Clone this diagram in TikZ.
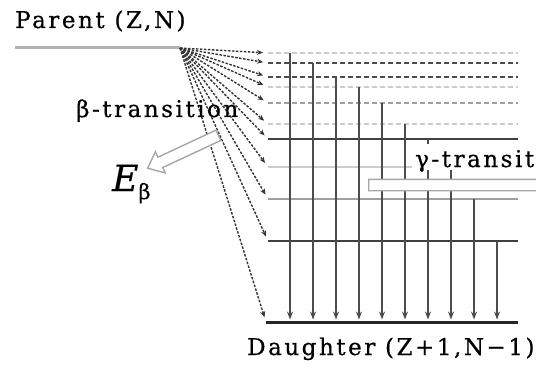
\RequirePackage{fix-cm}
\documentclass[tikz,border=0pt]{standalone}
\usepackage{fontspec}
\usepackage{tikz}
\usetikzlibrary{arrows.meta, shapes.arrows}
\newfontfamily\lblfont{DejaVu Serif}[LetterSpace=11, FakeBold=0.6]
\newfontfamily\enfont{DejaVu Serif}[FakeBold=0.4]

\begin{document}
\begin{tikzpicture}[x=1pt, y=-1pt,
      lbl/.style={font=\lblfont\fontsize{23}{26}\selectfont, inner sep=0pt},
      dlight/.style={gray!40, line width=2pt, dash pattern=on 5pt off 3pt},
      dmid/.style={gray!75, line width=2pt, dash pattern=on 5pt off 3pt},
      ddark/.style={black!70, line width=2pt, dash pattern=on 5pt off 3pt},
      slight/.style={gray!40, line width=2pt},
      smid/.style={gray!75, line width=2pt},
      sdark/.style={black!75, line width=2pt},
      parentlvl/.style={gray!60, line width=3pt},
      daughterlvl/.style={black!85, line width=3pt},
      beta/.style={-{Stealth[length=6pt, width=5pt]}, black!80, line width=1.4pt,
                   dash pattern=on 2.5pt off 1.5pt, shorten >=5pt},
      gam/.style={-{Stealth[length=8pt, width=6pt]}, gray!60!black, line width=1.4pt,
                  shorten >=2.5pt},
      hollow/.style={single arrow, draw=gray!70, fill=white, line width=1.4pt,
                     inner xsep=0pt, inner ysep=5pt, single arrow head extend=6pt,
                     single arrow tip angle=80, anchor=tail}]
    \useasboundingbox (0,0) rectangle (536,369);
    \clip (0,0) rectangle (536,369);
    % parent level
    \coordinate (pw) at (15,48);
    \coordinate (pe) at (180,48);
    \draw[parentlvl] (pw) -- (pe);
    \node[lbl, anchor=base west] (parent) at (15,28) {Parent (Z,N)};
    % excited levels of the daughter
    \foreach \n/\y/\sty in {1/53/dlight, 2/63/ddark, 3/77/ddark, 4/87/dlight, 5/103/dmid,
                            6/124/dlight, 7/139/sdark, 8/167/slight, 9/199/smid, 10/241/sdark}{
      \coordinate (L\n) at (268,\y);
      \coordinate (R\n) at (518,\y);
      \draw[\sty] (L\n) -- (R\n);
    }
    \coordinate (L11) at (266,322);
    \coordinate (R11) at (518,322);
    \draw[daughterlvl] (L11) -- (R11);
    % gamma cascade
    \foreach \n/\x in {1/290, 2/313, 3/336, 4/359, 5/382, 6/405, 7/428, 8/451, 9/474, 10/497}{
      \coordinate (G\n) at (\x,322);
      \draw[gam] (G\n |- L\n) -- (G\n);
    }
    % beta feeding
    \foreach \n in {1,...,11}
      \draw[beta] (pe) -- (L\n);
    \node[lbl, anchor=base west] (btr) at (76,117) {β-transition};
    \node[hollow, minimum height=78pt, minimum width=22pt, rotate=205] (ebarrow) at (219,135) {};
    \node[font=\enfont, inner sep=0pt, anchor=base west] (eb) at (112,191)
      {{\fontsize{36}{40}\selectfont\itshape E}\raisebox{-8pt}{\fontsize{21}{24}\selectfont β}};
    % gamma energy
    \node[hollow, minimum height=182pt, minimum width=22pt] (egarrow) at (368,185) {};
    \node[lbl, anchor=base west, fill=white, text height=22pt, text depth=2pt,
          inner xsep=3pt, inner ysep=1pt] (gtr) at (412,167) {γ-transition};
    \node[lbl, anchor=base west] (daughter) at (247,355) {Daughter (Z+1,N−1)};
  \end{tikzpicture}
\end{document}
